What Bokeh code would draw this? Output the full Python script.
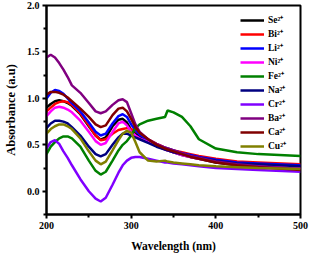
from bokeh.plotting import figure
from bokeh.models import Range1d, Legend, LegendItem, FixedTicker, CustomJSTickFormatter
from bokeh.embed import file_html
from bokeh.resources import INLINE

wl = [200, 205, 210, 215, 220, 225, 230, 240, 250, 258, 264, 270, 278, 285, 290, 295,
      300, 305, 310, 320, 330, 340, 343, 350, 360, 370, 380, 400, 425, 450, 500]

se = [0.90, 0.94, 0.97, 0.98, 0.97, 0.95, 0.92, 0.83, 0.70, 0.60, 0.555, 0.58, 0.70, 0.77, 0.78, 0.74,
      0.66, 0.62, 0.59, 0.54, 0.49, 0.45, 0.44, 0.42, 0.39, 0.37, 0.35, 0.31, 0.28, 0.26, 0.24]
bi = [0.86, 0.90, 0.94, 0.96, 0.97, 0.96, 0.93, 0.84, 0.71, 0.60, 0.55, 0.56, 0.62, 0.66, 0.67, 0.68,
      0.67, 0.65, 0.62, 0.56, 0.51, 0.47, 0.46, 0.44, 0.42, 0.40, 0.38, 0.35, 0.32, 0.31, 0.29]
li = [1.00, 1.06, 1.09, 1.08, 1.05, 1.00, 0.95, 0.86, 0.74, 0.64, 0.60, 0.62, 0.73, 0.81, 0.83, 0.80,
      0.72, 0.66, 0.61, 0.55, 0.50, 0.47, 0.46, 0.44, 0.41, 0.39, 0.37, 0.34, 0.31, 0.30, 0.28]
ni = [0.81, 0.86, 0.90, 0.91, 0.90, 0.88, 0.85, 0.76, 0.64, 0.54, 0.50, 0.52, 0.64, 0.73, 0.75, 0.71,
      0.64, 0.60, 0.57, 0.53, 0.49, 0.45, 0.44, 0.42, 0.39, 0.37, 0.35, 0.32, 0.29, 0.27, 0.25]
fe = [0.40, 0.48, 0.53, 0.57, 0.59, 0.59, 0.57, 0.48, 0.33, 0.22, 0.18, 0.21, 0.33, 0.44, 0.50, 0.54,
      0.60, 0.68, 0.72, 0.76, 0.78, 0.80, 0.87, 0.85, 0.80, 0.70, 0.56, 0.46, 0.42, 0.40, 0.38]
na = [0.68, 0.73, 0.76, 0.76, 0.75, 0.73, 0.69, 0.60, 0.48, 0.40, 0.375, 0.40, 0.50, 0.58, 0.62, 0.62,
      0.60, 0.58, 0.56, 0.52, 0.48, 0.45, 0.44, 0.42, 0.40, 0.38, 0.36, 0.33, 0.30, 0.29, 0.27]
cr = [0.46, 0.53, 0.55, 0.51, 0.43, 0.36, 0.28, 0.13, 0.00, -0.08, -0.11, -0.07, 0.07, 0.20, 0.28, 0.33,
      0.36, 0.37, 0.37, 0.35, 0.33, 0.31, 0.31, 0.30, 0.29, 0.28, 0.27, 0.25, 0.24, 0.23, 0.21]
ba = [1.44, 1.47, 1.44, 1.38, 1.31, 1.23, 1.14, 1.06, 0.95, 0.86, 0.84, 0.86, 0.93, 0.98, 0.99, 0.96,
      0.84, 0.72, 0.64, 0.56, 0.51, 0.47, 0.46, 0.44, 0.41, 0.38, 0.36, 0.32, 0.29, 0.27, 0.24]
ca = [1.04, 1.07, 1.07, 1.06, 1.04, 1.01, 0.97, 0.89, 0.80, 0.72, 0.69, 0.71, 0.82, 0.89, 0.90, 0.86,
      0.78, 0.69, 0.63, 0.56, 0.50, 0.46, 0.45, 0.43, 0.40, 0.37, 0.35, 0.31, 0.28, 0.26, 0.23]
cu = [0.62, 0.67, 0.70, 0.72, 0.72, 0.70, 0.67, 0.57, 0.43, 0.33, 0.29, 0.32, 0.44, 0.55, 0.62, 0.65,
      0.63, 0.53, 0.42, 0.33, 0.32, 0.33, 0.32, 0.31, 0.30, 0.29, 0.28, 0.27, 0.26, 0.25, 0.24]

labels = ["Se²⁺", "Bi²⁺", "Li²⁺", "Ni²⁺", "Fe²⁺", "Na²⁺", "Cr²⁺", "Ba²⁺", "Ca²⁺", "Cu²⁺"]
series = [se, bi, li, ni, fe, na, cr, ba, ca, cu]
colors = ["#000000", "#FF0000", "#0000FF", "#FF00FF", "#008000", "#000080",
          "#8000FF", "#800080", "#800000", "#808000"]

x_ticks = [200, 300, 400, 500]
y_ticks = [0.0, 0.5, 1.0, 1.5, 2.0]

p = figure(width=309, height=254, output_backend="svg", toolbar_location=None,
           x_range=Range1d(200, 500), y_range=Range1d(-0.25, 2.0),
           min_border_left=44, min_border_right=9, min_border_top=5, min_border_bottom=39)
p.background_fill_color = "white"
p.border_fill_color = "white"
p.grid.visible = False
p.outline_line_color = "black"
p.outline_line_width = 2

items = []
for lab, ys, c in zip(labels, series, colors):
    r = p.line(wl, ys, line_color=c, line_width=2.5)
    items.append(LegendItem(label=lab, renderers=[r]))

font = "Liberation Serif"
for ax in (p.xaxis[0], p.yaxis[0]):
    ax.axis_line_width = 2
    ax.axis_line_color = "black"
    ax.major_tick_in = 0
    ax.major_tick_out = 4
    ax.minor_tick_in = 0
    ax.minor_tick_out = 3
    ax.major_tick_line_width = 2
    ax.minor_tick_line_width = 2
    ax.major_label_text_font = font
    ax.major_label_text_font_style = "bold"
    ax.major_label_text_font_size = "10px"
    ax.major_label_text_color = "black"
    ax.axis_label_text_font = font
    ax.axis_label_text_font_style = "bold"
    ax.axis_label_text_color = "black"
    ax.major_label_standoff = 3

p.xaxis[0].axis_label_text_font_size = "11.5px"
p.yaxis[0].axis_label_text_font_size = "12.5px"
p.xaxis[0].axis_label_standoff = 8
p.yaxis[0].axis_label_standoff = 6

p.xaxis[0].ticker = FixedTicker(ticks=x_ticks, minor_ticks=[250, 350, 450])
p.yaxis[0].ticker = FixedTicker(ticks=y_ticks, minor_ticks=[-0.25, 0.25, 0.75, 1.25, 1.75])
p.yaxis[0].formatter = CustomJSTickFormatter(code="return tick.toFixed(1);")
p.xaxis[0].axis_label = "Wavelength (nm)"
p.yaxis[0].axis_label = "Absorbance (a.u)"

legend = Legend(items=items, location=(194, 62))
legend.background_fill_alpha = 0
legend.border_line_color = None
legend.padding = 0
legend.margin = 0
legend.spacing = 1
legend.glyph_width = 24
legend.glyph_height = 12
legend.label_height = 12
legend.label_standoff = 4
legend.label_text_font = font
legend.label_text_font_style = "bold"
legend.label_text_font_size = "9.5px"
legend.label_text_color = "black"
legend.label_text_line_height = 1.0
p.add_layout(legend)

open("out.html", "w").write(file_html(p, INLINE))
